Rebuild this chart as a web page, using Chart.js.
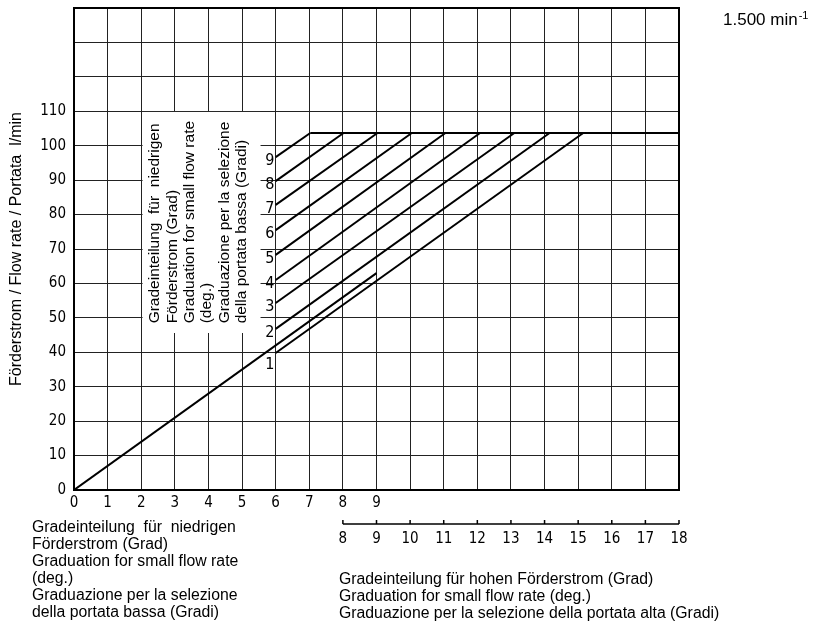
<!DOCTYPE html>
<html>
<head>
<meta charset="utf-8">
<script src="https://cdn.jsdelivr.net/npm/chart.js@4.4.0/dist/chart.umd.min.js"></script>
<style>
  html, body { margin: 0; padding: 0; background: #fff; }
</style>
</head>
<body>
<canvas id="chart" width="836" height="625"></canvas>
<script>
// low range line (graduation 0..9), x in scale units, y in l/min
const lowX = [0, 9];
const lowY = [0, 63];

// high range lines 1..9: start at x = 6, run up to the max flow
const gradLabels = ["1", "2", "3", "4", "5", "6", "7", "8", "9"];
const gradStartX = 6;
const gradStartY = [39.8, 46.8, 54.3, 61.0, 68.3, 75.5, 82.8, 89.7, 96.7];
const gradTopX = [15.15, 14.15, 13.1, 12.08, 11.05, 10.05, 9.03, 8.02, 7.03];
const maxFlow = 103.7;
const maxFlowEndX = 18;

const lowTicks = [0, 1, 2, 3, 4, 5, 6, 7, 8, 9];
const highTicks = [8, 9, 10, 11, 12, 13, 14, 15, 16, 17, 18];
const flowTicks = [0, 10, 20, 30, 40, 50, 60, 70, 80, 90, 100, 110];

const yTitle = "Förderstrom / Flow rate / Portata  l/min";
const innerText = [
  "Gradeinteilung  für  niedrigen",
  "Förderstrom (Grad)",
  "Graduation for small flow rate",
  "(deg.)",
  "Graduazione per la selezione",
  "della portata bassa (Gradi)"
];
const lowCaption = [
  "Gradeinteilung  für  niedrigen",
  "Förderstrom (Grad)",
  "Graduation for small flow rate",
  "(deg.)",
  "Graduazione per la selezione",
  "della portata bassa (Gradi)"
];
const highCaption = [
  "Gradeinteilung für hohen Förderstrom (Grad)",
  "Graduation for small flow rate (deg.)",
  "Graduazione per la selezione della portata alta (Gradi)"
];
const speedLabel = "1.500 min";
const speedExp = "-1";

const textFont = '"Liberation Sans", Arial, sans-serif';
const digitFont = '"Liberation Sans Narrow", "DejaVu Sans Condensed", "Liberation Sans", sans-serif';

const lineStyle = {
  borderColor: "#000",
  borderWidth: 2,
  pointRadius: 0,
  showLine: true,
  fill: false,
  tension: 0
};

const datasets = [];
datasets.push({
  ...lineStyle,
  data: lowX.map((x, i) => ({ x: x, y: lowY[i] }))
});
gradStartY.forEach((y0, i) => {
  datasets.push({
    ...lineStyle,
    data: [{ x: gradStartX, y: y0 }, { x: gradTopX[i], y: maxFlow }]
  });
});
datasets.push({
  ...lineStyle,
  data: [{ x: Math.min(...gradTopX), y: maxFlow }, { x: maxFlowEndX, y: maxFlow }]
});

const sheet = {
  id: "sheet",
  beforeDatasetsDraw(chart) {
    const { ctx, scales } = chart;
    const x = scales.x, y = scales.y;
    // blank area behind the vertical text block
    ctx.save();
    ctx.fillStyle = "#fff";
    const l = x.getPixelForValue(2.04), r = x.getPixelForValue(5.55);
    const t = y.getPixelForValue(109.8), b = y.getPixelForValue(45.6);
    ctx.fillRect(l, t, r - l, b - t);
    ctx.restore();

    // rotated text block
    ctx.save();
    ctx.translate(x.getPixelForValue(2.41), y.getPixelForValue(48.4));
    ctx.rotate(-Math.PI / 2);
    ctx.fillStyle = "#000";
    ctx.font = "15.5px " + textFont;
    ctx.textAlign = "left";
    ctx.textBaseline = "middle";
    innerText.forEach((s, i) => ctx.fillText(s, 0, i * 17.4));
    ctx.restore();

    // labels 1..9 at line starts
    ctx.save();
    ctx.fillStyle = "#000";
    ctx.font = "16px " + digitFont;
    ctx.textAlign = "center";
    ctx.textBaseline = "middle";
    gradLabels.forEach((s, i) => {
      const dy = i === 0 ? 3.4 : 1.2;
      ctx.fillText(s, x.getPixelForValue(5.83), y.getPixelForValue(gradStartY[i] - dy));
    });
    ctx.restore();
  },
  afterDraw(chart) {
    const { ctx, chartArea, scales } = chart;
    const x2 = scales.x2;
    ctx.save();
    // frame
    ctx.strokeStyle = "#000";
    ctx.lineWidth = 2;
    ctx.strokeRect(chartArea.left, chartArea.top, chartArea.right - chartArea.left, chartArea.bottom - chartArea.top);

    // ruler for the high range scale
    const ry = x2.top + 14;
    ctx.lineWidth = 1.5;
    ctx.beginPath();
    ctx.moveTo(x2.getPixelForValue(highTicks[0]), ry);
    ctx.lineTo(x2.getPixelForValue(highTicks[highTicks.length - 1]), ry);
    highTicks.forEach(v => {
      const px = x2.getPixelForValue(v);
      ctx.moveTo(px, ry);
      ctx.lineTo(px, ry - 4);
    });
    ctx.stroke();

    // captions
    ctx.fillStyle = "#000";
    ctx.font = "15.8px " + textFont;
    ctx.textAlign = "left";
    ctx.textBaseline = "middle";
    lowCaption.forEach((s, i) => ctx.fillText(s, 32, 528 + i * 17));
    highCaption.forEach((s, i) => ctx.fillText(s, 339, 580 + i * 17));

    // speed
    ctx.font = "17px " + textFont;
    ctx.fillText(speedLabel, 723, 20);
    const w = ctx.measureText(speedLabel).width;
    ctx.font = "11px " + textFont;
    ctx.fillText(speedExp, 723 + w + 1, 16);
    ctx.restore();
  }
};

new Chart(document.getElementById("chart"), {
  type: "line",
  data: { datasets: datasets },
  options: {
    responsive: false,
    devicePixelRatio: 1,
    animation: false,
    events: [],
    layout: { padding: { top: 8, right: 157, left: 0, bottom: 0 } },
    plugins: { legend: { display: false }, tooltip: { enabled: false } },
    scales: {
      x: {
        type: "linear",
        position: "bottom",
        weight: 0,
        min: 0,
        max: 18,
        afterFit: s => { s.height = 20; s.paddingLeft = 0; s.paddingRight = 0; },
        ticks: {
          stepSize: 1,
          autoSkip: false,
          maxRotation: 0,
          padding: 4,
          color: "#000",
          font: { family: digitFont, size: 15 },
          callback: v => lowTicks.includes(v) ? String(v) : ""
        },
        grid: { color: "#222", lineWidth: 1, drawTicks: false },
        border: { display: true, color: "#000", width: 2 }
      },
      x2: {
        type: "linear",
        position: "bottom",
        weight: 1,
        min: 0,
        max: 18,
        afterFit: s => { s.height = 115; s.paddingLeft = 0; s.paddingRight = 0; },
        ticks: {
          stepSize: 1,
          autoSkip: false,
          maxRotation: 0,
          padding: 20,
          color: "#000",
          font: { family: digitFont, size: 15 },
          callback: v => highTicks.includes(v) ? String(v) : ""
        },
        grid: { display: false, drawTicks: false },
        border: { display: false }
      },
      y: {
        type: "linear",
        min: 0,
        max: 140,
        afterFit: s => { s.width = 74; s.paddingTop = 0; s.paddingBottom = 0; },
        ticks: {
          stepSize: 10,
          autoSkip: false,
          padding: 8,
          color: "#000",
          font: { family: digitFont, size: 15 },
          callback: v => flowTicks.includes(v) ? String(v) : ""
        },
        title: {
          display: true,
          text: yTitle,
          color: "#000",
          font: { family: textFont, size: 16 },
          padding: { top: 7, bottom: 0 }
        },
        grid: { color: "#222", lineWidth: 1, drawTicks: false },
        border: { display: true, color: "#000", width: 2 }
      }
    }
  },
  plugins: [sheet]
});
</script>
</body>
</html>
